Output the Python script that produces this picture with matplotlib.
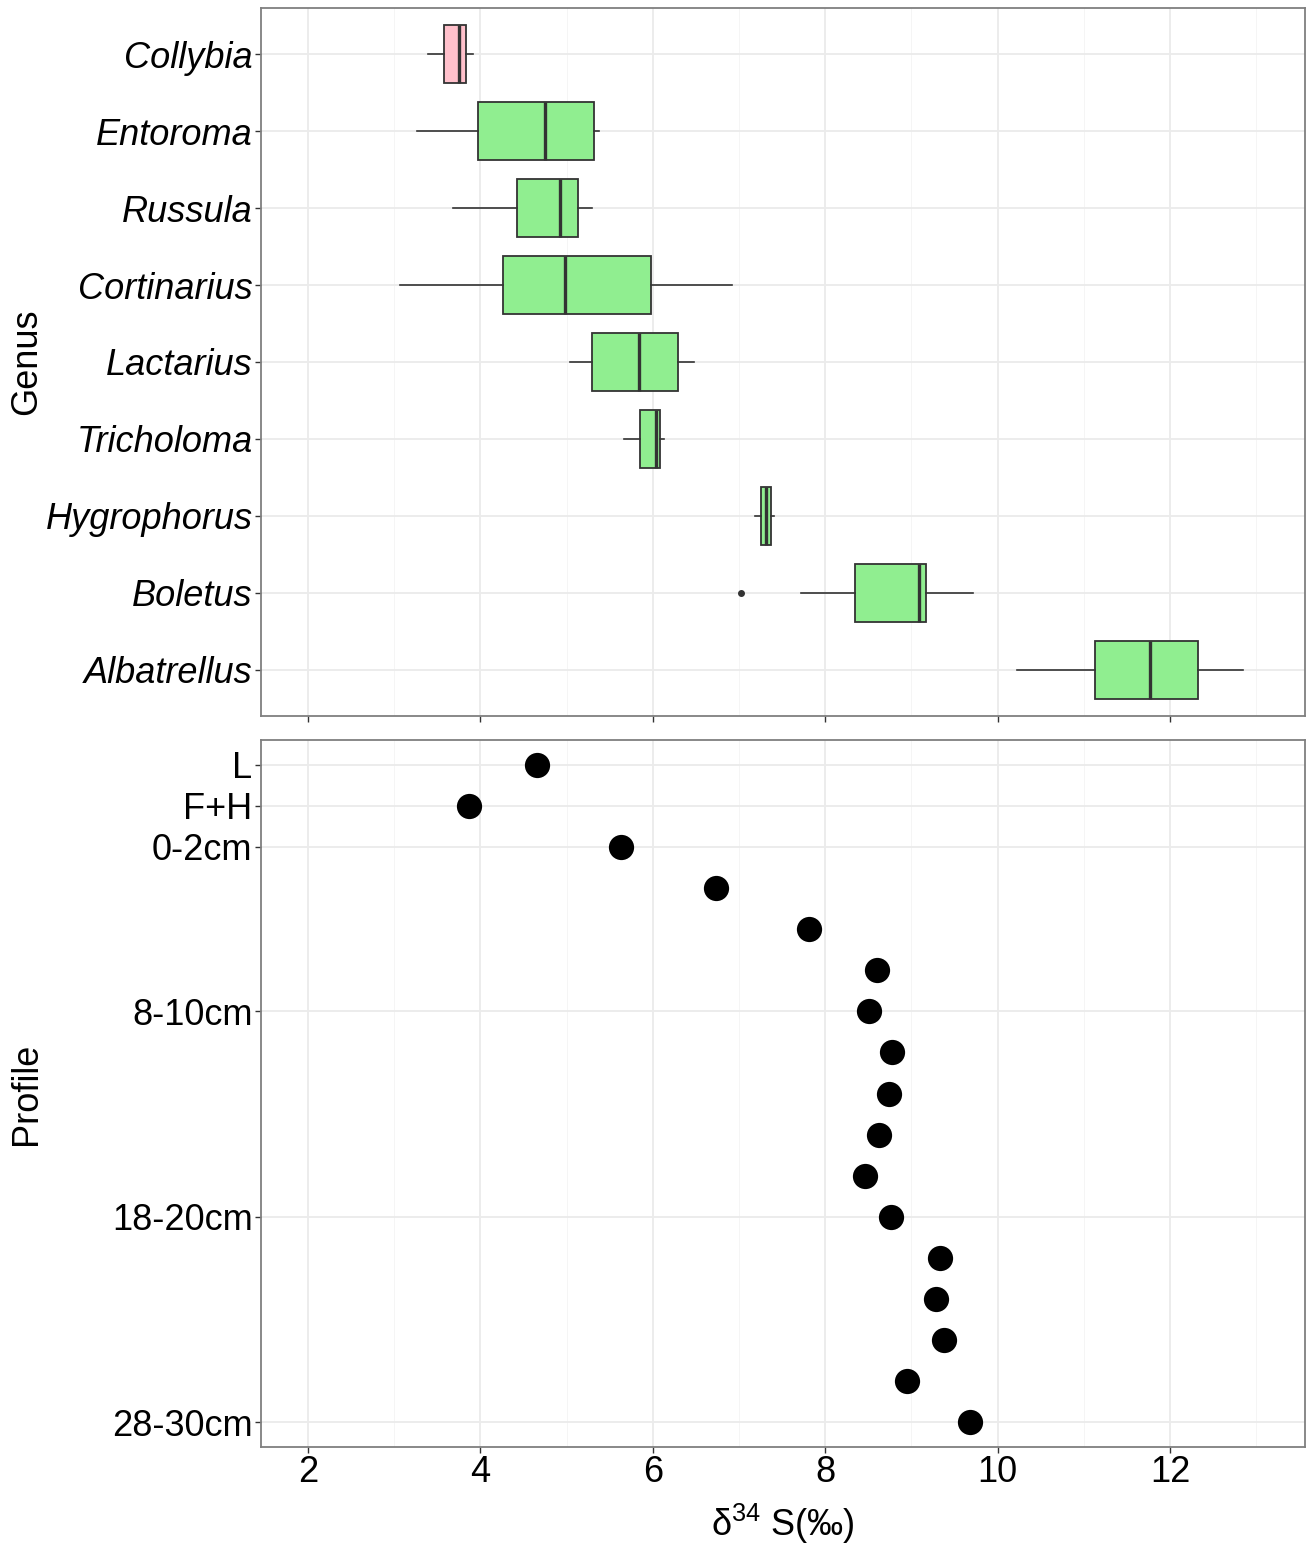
import matplotlib
matplotlib.use("Agg")
import matplotlib.pyplot as plt
from matplotlib.ticker import MultipleLocator

plt.rcParams['font.family'] = ['Liberation Sans', 'DejaVu Sans']
plt.rcParams['mathtext.fontset'] = 'custom'
plt.rcParams['mathtext.rm'] = 'Liberation Sans'
plt.rcParams['mathtext.it'] = 'Liberation Sans:italic'

# ---- data: genus boxplot statistics ----
genus = ["Collybia", "Entoroma", "Russula", "Cortinarius", "Lactarius",
         "Tricholoma", "Hygrophorus", "Boletus", "Albatrellus"]
whislo = [3.397, 3.271, 3.686, 3.071, 5.035, 5.666, 7.183, 7.725, 10.228]
q1 = [3.580, 3.976, 4.428, 4.265, 5.291, 5.849, 7.258, 8.343, 11.130]
med = [3.752, 4.745, 4.925, 4.982, 5.845, 6.041, 7.318, 9.091, 11.770]
q3 = [3.837, 5.316, 5.136, 5.984, 6.289, 6.090, 7.376, 9.172, 12.325]
whishi = [3.910, 5.373, 5.299, 6.925, 6.473, 6.134, 7.412, 9.718, 12.848]
outliers = [[], [], [], [], [], [], [], [7.02], []]
box_colors = ["#FFC0CB"] + ["#90EE90"] * 8

# ---- data: soil profile ----
profile = ["L", "F+H", "0-2cm", "2-4cm", "4-6cm", "6-8cm", "8-10cm", "10-12cm",
           "12-14cm", "14-16cm", "16-18cm", "18-20cm", "20-22cm", "22-24cm",
           "24-26cm", "26-28cm", "28-30cm"]
profile_d34s = [4.66, 3.867, 5.635, 6.73, 7.81, 8.60, 8.51, 8.78, 8.745,
                8.62, 8.46, 8.762, 9.338, 9.284, 9.377, 8.944, 9.679]
profile_shown = ["L", "F+H", "0-2cm", "8-10cm", "18-20cm", "28-30cm"]

x_ticks = [2, 4, 6, 8, 10, 12]
xlim = (1.455, 13.567)

FS = 26
border = "#7f7f7f"
grid_major = "#ebebeb"
grid_minor = "#f5f5f5"
dark = "#333333"

fig = plt.figure(figsize=(13.10, 15.44), dpi=100)
ax1 = fig.add_axes([0.1992, 0.5363, 0.7970, 0.4585])
ax2 = fig.add_axes([0.1992, 0.0628, 0.7970, 0.4579])


def style_axes(ax):
    ax.set_xlim(*xlim)
    ax.xaxis.set_major_locator(MultipleLocator(2))
    ax.xaxis.set_minor_locator(MultipleLocator(1))
    ax.grid(which='major', axis='both', color=grid_major, linewidth=1.3, zorder=0)
    ax.grid(which='minor', axis='x', color=grid_minor, linewidth=0.7, zorder=0)
    ax.set_axisbelow(True)
    for s in ax.spines.values():
        s.set_color(border)
        s.set_linewidth(1.3)
    ax.tick_params(axis='both', which='major', length=4, width=1.0, color=dark,
                   labelsize=FS, labelcolor='black', pad=2)
    ax.tick_params(axis='x', which='minor', length=0)


# ---- top panel: boxplots ----
pos = list(range(1, len(genus) + 1))
stats = []
for i, g in enumerate(genus):
    stats.append(dict(label=g, med=med[i], q1=q1[i], q3=q3[i],
                      whislo=whislo[i], whishi=whishi[i], fliers=outliers[i]))
bp = ax1.bxp(stats, positions=pos, vert=False, widths=0.75, patch_artist=True,
             showcaps=False,
             boxprops=dict(edgecolor=dark, linewidth=1.3),
             whiskerprops=dict(color=dark, linewidth=1.2),
             medianprops=dict(color=dark, linewidth=2.4),
             flierprops=dict(marker='o', markerfacecolor=dark,
                             markeredgecolor=dark, markersize=4))
for patch, c in zip(bp['boxes'], box_colors):
    patch.set_facecolor(c)
    patch.set_zorder(2)

style_axes(ax1)
ax1.set_ylim(len(genus) + 0.6, 0.4)
ax1.set_yticks(pos)
ax1.set_yticklabels(genus, fontstyle='italic')
ax1.set_xticks(x_ticks)
ax1.tick_params(axis='x', labelbottom=False)
ax1.set_ylabel("Genus", fontsize=FS)
ax1.yaxis.set_label_coords(-0.208, 0.5)

# ---- bottom panel: profile dots ----
ypos = list(range(1, len(profile) + 1))
ax2.scatter(profile_d34s, ypos, s=330, color='black', zorder=3, linewidths=0)
style_axes(ax2)
ax2.set_ylim(len(profile) + 0.6, 0.4)
shown_pos = [profile.index(p) + 1 for p in profile_shown]
ax2.set_yticks(shown_pos)
ax2.set_yticklabels(profile_shown)
ax2.set_xticks(x_ticks)
ax2.set_xticklabels([str(t) for t in x_ticks])
ax2.set_ylabel("Profile", fontsize=FS)
ax2.yaxis.set_label_coords(-0.208, 0.5)
ax2.set_xlabel(r"$\mathregular{\delta^{34}}$ S(‰)", fontsize=FS, labelpad=8)

fig.savefig("out.png", dpi=100)
